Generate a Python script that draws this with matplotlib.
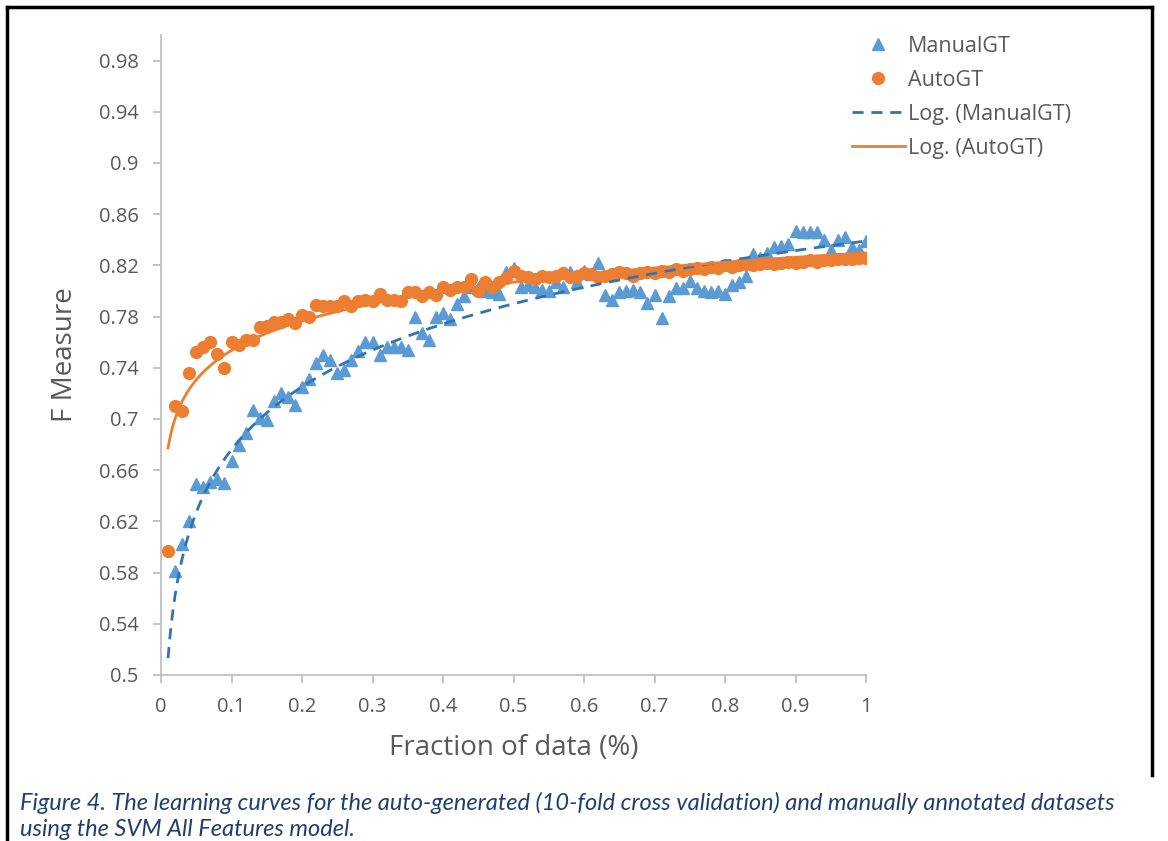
import numpy as np
import matplotlib.pyplot as plt
from matplotlib.lines import Line2D

fraction = [round(0.01 * i, 2) for i in range(1, 101)]

# first ManualGT value sits below the axis minimum (hidden, as in the original)
manual_gt = [0.450, 0.581, 0.602, 0.620, 0.649, 0.647, 0.651, 0.653, 0.650, 0.667,
             0.680, 0.689, 0.707, 0.701, 0.699, 0.714, 0.720, 0.717, 0.711, 0.725,
             0.731, 0.744, 0.750, 0.746, 0.736, 0.738, 0.746, 0.753, 0.760, 0.760,
             0.750, 0.756, 0.756, 0.756, 0.754, 0.780, 0.767, 0.762, 0.780, 0.783,
             0.778, 0.790, 0.796, 0.803, 0.802, 0.800, 0.799, 0.798, 0.815, 0.818,
             0.803, 0.805, 0.803, 0.801, 0.800, 0.807, 0.803, 0.815, 0.807, 0.816,
             0.813, 0.822, 0.797, 0.793, 0.799, 0.800, 0.801, 0.799, 0.791, 0.797,
             0.779, 0.796, 0.802, 0.802, 0.808, 0.802, 0.800, 0.799, 0.800, 0.798,
             0.805, 0.807, 0.812, 0.829, 0.826, 0.830, 0.834, 0.835, 0.837, 0.847,
             0.846, 0.846, 0.846, 0.840, 0.832, 0.840, 0.842, 0.834, 0.832, 0.839]

auto_gt = [0.597, 0.710, 0.706, 0.736, 0.752, 0.756, 0.760, 0.751, 0.740, 0.760,
           0.758, 0.762, 0.762, 0.772, 0.773, 0.776, 0.776, 0.778, 0.775, 0.781,
           0.780, 0.789, 0.788, 0.788, 0.788, 0.792, 0.788, 0.792, 0.793, 0.792,
           0.798, 0.793, 0.793, 0.792, 0.799, 0.799, 0.796, 0.799, 0.797, 0.803,
           0.801, 0.803, 0.803, 0.809, 0.800, 0.807, 0.803, 0.807, 0.810, 0.816,
           0.812, 0.811, 0.809, 0.812, 0.811, 0.812, 0.814, 0.811, 0.812, 0.814,
           0.813, 0.811, 0.812, 0.813, 0.815, 0.814, 0.812, 0.814, 0.815, 0.814,
           0.816, 0.815, 0.817, 0.816, 0.817, 0.818, 0.817, 0.819, 0.818, 0.820,
           0.819, 0.820, 0.821, 0.820, 0.821, 0.822, 0.821, 0.822, 0.823, 0.822,
           0.823, 0.824, 0.823, 0.824, 0.824, 0.825, 0.825, 0.825, 0.826, 0.826]

y_ticks = [0.5, 0.54, 0.58, 0.62, 0.66, 0.7, 0.74, 0.78, 0.82, 0.86, 0.9, 0.94, 0.98]
x_ticks = [0, 0.1, 0.2, 0.3, 0.4, 0.5, 0.6, 0.7, 0.8, 0.9, 1]

BLUE = '#5b9bd5'
BLUE_DARK = '#2e75b6'
ORANGE = '#ed7d31'
GREY = '#595959'
DASH = (0, (4, 2.8))

plt.rcParams['font.family'] = ['Open Sans', 'DejaVu Sans']

fig = plt.figure(figsize=(11.68, 8.41), dpi=100)
ax = fig.add_axes([161 / 1168, 1 - 675 / 841, 705 / 1168, 640 / 841])

x = np.array(fraction)
# logarithmic trend lines, fitted like Excel does
xs = np.linspace(0.01, 1, 400)
a_m, b_m = np.polyfit(np.log(x), manual_gt, 1)
a_a, b_a = np.polyfit(np.log(x), auto_gt, 1)

ax.plot(x, manual_gt, linestyle='none', marker='^', markersize=9, color=BLUE, zorder=3)
ax.plot(x, auto_gt, linestyle='none', marker='o', markersize=8.5, color=ORANGE, zorder=3)
ax.plot(xs, a_m * np.log(xs) + b_m, color=BLUE_DARK, linestyle=DASH, linewidth=2, zorder=4)
ax.plot(xs, a_a * np.log(xs) + b_a, color=ORANGE, linewidth=2, zorder=4)

ax.set_xlim(0, 1)
ax.set_ylim(0.5, 1.0)
ax.set_yticks(y_ticks)
ax.set_yticklabels([f'{v:g}' for v in y_ticks])
ax.set_xticks(x_ticks)
ax.set_xticklabels([f'{v:g}' for v in x_ticks])
for s in ['top', 'right']:
    ax.spines[s].set_visible(False)
for s in ['left', 'bottom']:
    ax.spines[s].set_color('#bfbfbf')
    ax.spines[s].set_linewidth(1.3)
ax.tick_params(colors='#bfbfbf', labelcolor=GREY, labelsize=14.5, length=6, width=1.3)
ax.tick_params(axis='y', pad=10)
ax.tick_params(axis='x', pad=10)

ax.set_xlabel('Fraction of data (%)', fontsize=20, color=GREY, labelpad=12)
ax.set_ylabel('F Measure', fontsize=20, color=GREY, labelpad=14)

handles = [
    Line2D([], [], linestyle='none', marker='^', markersize=9, color=BLUE),
    Line2D([], [], linestyle='none', marker='o', markersize=8.5, color=ORANGE),
    Line2D([], [], color=BLUE_DARK, linestyle=DASH, linewidth=2),
    Line2D([], [], color=ORANGE, linewidth=2),
]
labels = ['ManualGT', 'AutoGT', 'Log. (ManualGT)', 'Log. (AutoGT)']
leg = fig.legend(handles, labels, loc='upper left', bbox_to_anchor=(852 / 1168, 1 - 36 / 841),
                 frameon=False, fontsize=15.5, handlelength=2.45, labelspacing=0.6,
                 handletextpad=0.15, borderaxespad=0, borderpad=0)
for t in leg.get_texts():
    t.set_color(GREY)

cap_font = ['Lato', 'DejaVu Sans']
fig.text(20 / 1168, 1 - 803 / 841,
         'Figure 4. The learning curves for the auto-generated (10-fold cross validation) and manually annotated datasets',
         fontsize=17, style='italic', color='#1f3f73', family=cap_font, va='center')
fig.text(20 / 1168, 1 - 830 / 841, 'using the SVM All Features model.',
         fontsize=17, style='italic', color='#1f3f73', family=cap_font, va='center')

# page frame
fig.add_artist(Line2D([7 / 1168, 7 / 1168], [0, 1 - 7 / 841], color='black', linewidth=2.5))
fig.add_artist(Line2D([7 / 1168, 1152 / 1168], [1 - 7 / 841, 1 - 7 / 841], color='black', linewidth=2.5))
fig.add_artist(Line2D([1152 / 1168, 1152 / 1168], [1 - 7 / 841, 1 - 775 / 841], color='black', linewidth=2.5))

fig.savefig('out.png', dpi=100)
